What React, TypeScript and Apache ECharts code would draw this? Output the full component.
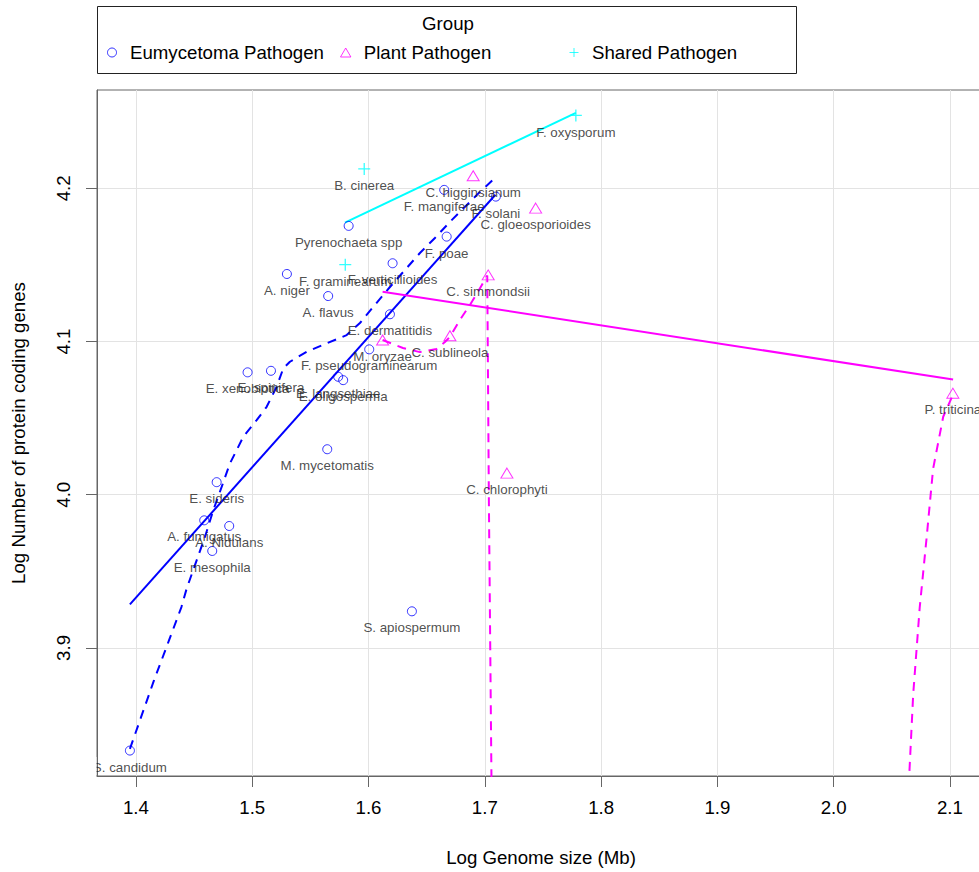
import React, { useEffect, useRef } from "react";
import * as echarts from "echarts";

const FONT = "'Liberation Sans', Arial, Helvetica, sans-serif";
const BIG = 18.67;
const SMALL = 13.33;

const X_MIN = 1.3665;
const X_MAX = 2.131;
const Y_MIN = 3.8164;
const Y_MAX = 4.2642;
const xTicks = [1.4, 1.5, 1.6, 1.7, 1.8, 1.9, 2.0, 2.1];
const yTicks = [3.9, 4.0, 4.1, 4.2];

const groups = ["Eumycetoma Pathogen", "Plant Pathogen", "Shared Pathogen"];

const eumNames = [
  "S. candidum", "E. mesophila", "A. fumigatus", "A. Nidulans", "E. sideris",
  "E. xenobiotica", "E. spinifera", "M. mycetomatis", "E. langsethiae", "E. oligosperma",
  "F. pseudograminearum", "E. dermatitidis", "A. flavus", "A. niger", "Pyrenochaeta spp",
  "F. verticillioides", "F. poae", "F. mangiferae", "F. solani", "S. apiospermum",
];
const eumX = [
  1.3948, 1.4656, 1.4587, 1.4802, 1.4694,
  1.4960, 1.5161, 1.5645, 1.5739, 1.5782,
  1.6006, 1.6184, 1.5653, 1.5298, 1.5829,
  1.6207, 1.6672, 1.6651, 1.7095, 1.6373,
];
const eumY = [
  3.8330, 3.9633, 3.9833, 3.9796, 4.0082,
  4.0799, 4.0809, 4.0297, 4.0770, 4.0748,
  4.0949, 4.1178, 4.1297, 4.1441, 4.1755,
  4.1511, 4.1685, 4.1990, 4.1946, 3.9239,
];

const plantNames = ["M. oryzae", "C. sublineola", "C. simmondsii", "C. chlorophyti", "C. higginsianum", "C. gloeosporioides", "P. triticina"];
const plantX = [1.6121, 1.6700, 1.7029, 1.7190, 1.6900, 1.7437, 2.1025];
const plantY = [4.1010, 4.1038, 4.1435, 4.0141, 4.2082, 4.1871, 4.0663];

const sharedNames = ["B. cinerea", "F. graminearum", "F. oxysporum"];
const sharedX = [1.5963, 1.5800, 1.7783];
const sharedY = [4.2127, 4.1502, 4.2476];

// linear fits (solid)
const eumFitX = [1.3948, 1.7091];
const eumFitY = [3.9284, 4.1958];
const plantFitX = [1.6121, 2.1027];
const plantFitY = [4.1325, 4.0752];
const sharedFitX = [1.5797, 1.7783];
const sharedFitY = [4.1776, 4.2493];

// smooth curves (dashed)
const eumSmoothX = [
  1.3948, 1.4155, 1.4284, 1.4391, 1.4436, 1.4522, 1.4593, 1.4665, 1.4737, 1.4808,
  1.4923, 1.5038, 1.5124, 1.5210, 1.5267, 1.5324, 1.5468, 1.5640, 1.5812, 1.5926,
  1.6055, 1.6184, 1.6313, 1.6442, 1.6571, 1.6700, 1.6829, 1.6958, 1.7101,
];
const eumSmoothY = [
  3.8341, 3.8788, 3.9049, 3.9267, 3.9387, 3.9572, 3.9724, 3.9899, 4.0051, 4.0204,
  4.0378, 4.0487, 4.0574, 4.0705, 4.0825, 4.0868, 4.0933, 4.0988, 4.1042, 4.1121,
  4.1239, 4.1356, 4.1467, 4.1578, 4.1676, 4.1781, 4.1879, 4.1977, 4.2077,
];
const plantSmoothX = [
  1.6121, 1.6296, 1.6442, 1.6586, 1.6657, 1.6700, 1.6786, 1.6872, 1.6941, 1.7021,
  1.7035, 1.7057, 1.7070, 2.0526, 2.0649, 2.0684, 2.0740, 2.0799, 2.0855, 2.0942, 2.1027,
];
const plantSmoothY = [
  4.1010, 4.0958, 4.0931, 4.0951, 4.0997, 4.1031, 4.1141, 4.1239, 4.1324, 4.1431,
  3.9964, 3.8160, 3.6696, 3.6696, 3.8155, 3.8698, 3.9264, 3.9717, 4.0169, 4.0509, 4.0656,
];

const BLUE = "#0000FF";
const MAGENTA = "#FF00FF";
const CYAN = "#00FFFF";
const PLUS = "path://M0,5H10M5,0V10";
const TRI = "path://M5,0L10,8.66L0,8.66Z";

const pts = (names: string[], xs: number[], ys: number[]) =>
  names.map((n, i) => ({ name: n, value: [xs[i], ys[i]] }));
const pairs = (xs: number[], ys: number[]) => xs.map((x, i) => [x, ys[i]]);

const labelStyle = (distance: number) => ({
  show: true,
  position: "bottom",
  distance,
  formatter: "{b}",
  fontSize: SMALL,
  color: "#222",
  fontFamily: FONT,
});

export default function App() {
  const ref = useRef<HTMLDivElement>(null);
  useEffect(() => {
    document.body.style.margin = "0";
    if (!ref.current) return;
    const chart = echarts.init(ref.current, undefined, { renderer: "svg" });

    const lineSeries = (name: string, xs: number[], ys: number[], color: string, dashed: boolean) => ({
      type: "line",
      name,
      data: pairs(xs, ys),
      showSymbol: false,
      symbol: "none",
      clip: true,
      silent: true,
      z: 3,
      lineStyle: { color, width: 2, type: dashed ? [9, 7] : "solid" },
      emphasis: { disabled: true },
    });

    const legendCommon = {
      orient: "horizontal",
      padding: 0,
      top: 43,
      itemWidth: 26,
      itemHeight: 9,
      selectedMode: false,
      textStyle: { fontSize: BIG, color: "#000", fontFamily: FONT },
      itemStyle: { borderWidth: 1 },
    };

    const option: any = {
      animation: false,
      textStyle: { fontFamily: FONT },
      grid: {
        left: 97,
        top: 90,
        width: 889,
        height: 686,
        show: true,
        borderColor: "#666",
        borderWidth: 1,
        backgroundColor: "rgba(0,0,0,0)",
        containLabel: false,
        outerBoundsMode: "none",
      },
      legend: [
        { ...legendCommon, left: 107, data: [{ name: groups[0], icon: "circle" }] },
        { ...legendCommon, left: 340, data: [{ name: groups[1], icon: TRI }] },
        { ...legendCommon, left: 569, data: [{ name: groups[2], icon: PLUS }] },
      ],
      xAxis: {
        type: "value",
        min: X_MIN,
        max: X_MAX,
        axisLine: { show: true, lineStyle: { color: "#666", width: 1 } },
        axisTick: { show: true, length: 11, lineStyle: { color: "#666" }, customValues: xTicks },
        axisLabel: {
          customValues: xTicks,
          formatter: (v: number) => v.toFixed(1),
          fontSize: BIG,
          color: "#000",
          margin: 22,
          fontFamily: FONT,
        },
        splitLine: { show: true, lineStyle: { color: "#e3e3e3", width: 1 } },
      },
      yAxis: {
        type: "value",
        min: Y_MIN,
        max: Y_MAX,
        axisLine: { show: true, lineStyle: { color: "#666", width: 1 } },
        axisTick: { show: true, length: 11, lineStyle: { color: "#666" }, customValues: yTicks },
        axisLabel: {
          customValues: yTicks,
          formatter: (v: number) => v.toFixed(1),
          fontSize: BIG,
          color: "#000",
          rotate: 90,
          margin: 24,
          fontFamily: FONT,
        },
        splitLine: { show: true, lineStyle: { color: "#e3e3e3", width: 1 } },
      },
      series: [
        lineSeries("Eumycetoma fit", eumFitX, eumFitY, BLUE, false),
        lineSeries("Eumycetoma smooth", eumSmoothX, eumSmoothY, BLUE, true),
        lineSeries("Plant fit", plantFitX, plantFitY, MAGENTA, false),
        lineSeries("Plant smooth", plantSmoothX, plantSmoothY, MAGENTA, true),
        lineSeries("Shared fit", sharedFitX, sharedFitY, CYAN, false),
        {
          type: "scatter",
          name: groups[0],
          data: pts(eumNames, eumX, eumY),
          symbol: "circle",
          symbolSize: 9,
          z: 4,
          itemStyle: { color: "rgba(0,0,0,0)", borderColor: BLUE, borderWidth: 1 },
          label: labelStyle(5),
          emphasis: { disabled: true },
        },
        {
          type: "scatter",
          name: groups[1],
          data: pts(plantNames, plantX, plantY),
          symbol: "triangle",
          symbolSize: [12, 10],
          z: 4,
          itemStyle: { color: "rgba(0,0,0,0)", borderColor: MAGENTA, borderWidth: 1 },
          label: labelStyle(4.5),
          emphasis: { disabled: true },
        },
        {
          type: "scatter",
          name: groups[2],
          data: pts(sharedNames, sharedX, sharedY),
          symbol: PLUS,
          symbolSize: 12,
          z: 4,
          itemStyle: { color: "rgba(0,0,0,0)", borderColor: CYAN, borderWidth: 1.3 },
          label: labelStyle(3.5),
          emphasis: { disabled: true },
        },
      ],
      graphic: [
        {
          type: "rect",
          shape: { x: 97.5, y: 6.5, width: 699, height: 67 },
          style: { fill: "none", stroke: "#222", lineWidth: 1 },
          silent: true,
        },
        {
          type: "text",
          x: 448,
          y: 23,
          style: { text: "Group", fontSize: BIG, fontFamily: FONT, fill: "#000", align: "center", verticalAlign: "middle" },
          silent: true,
        },
        {
          type: "text",
          x: 541,
          y: 857,
          style: { text: "Log Genome size (Mb)", fontSize: BIG, fontFamily: FONT, fill: "#000", align: "center", verticalAlign: "middle" },
          silent: true,
        },
        {
          type: "text",
          x: 18,
          y: 433,
          rotation: Math.PI / 2,
          style: { text: "Log Number of protein coding genes", fontSize: BIG, fontFamily: FONT, fill: "#000", align: "center", verticalAlign: "middle" },
          silent: true,
        },
        {
          type: "rect",
          z: 100,
          shape: { x: 60, y: 757, width: 36.5, height: 18 },
          style: { fill: "#fff" },
          silent: true,
        },
      ],
    };
    chart.setOption(option);
    return () => chart.dispose();
  }, []);
  return <div ref={ref} style={{ width: 979, height: 872 }} />;
}
